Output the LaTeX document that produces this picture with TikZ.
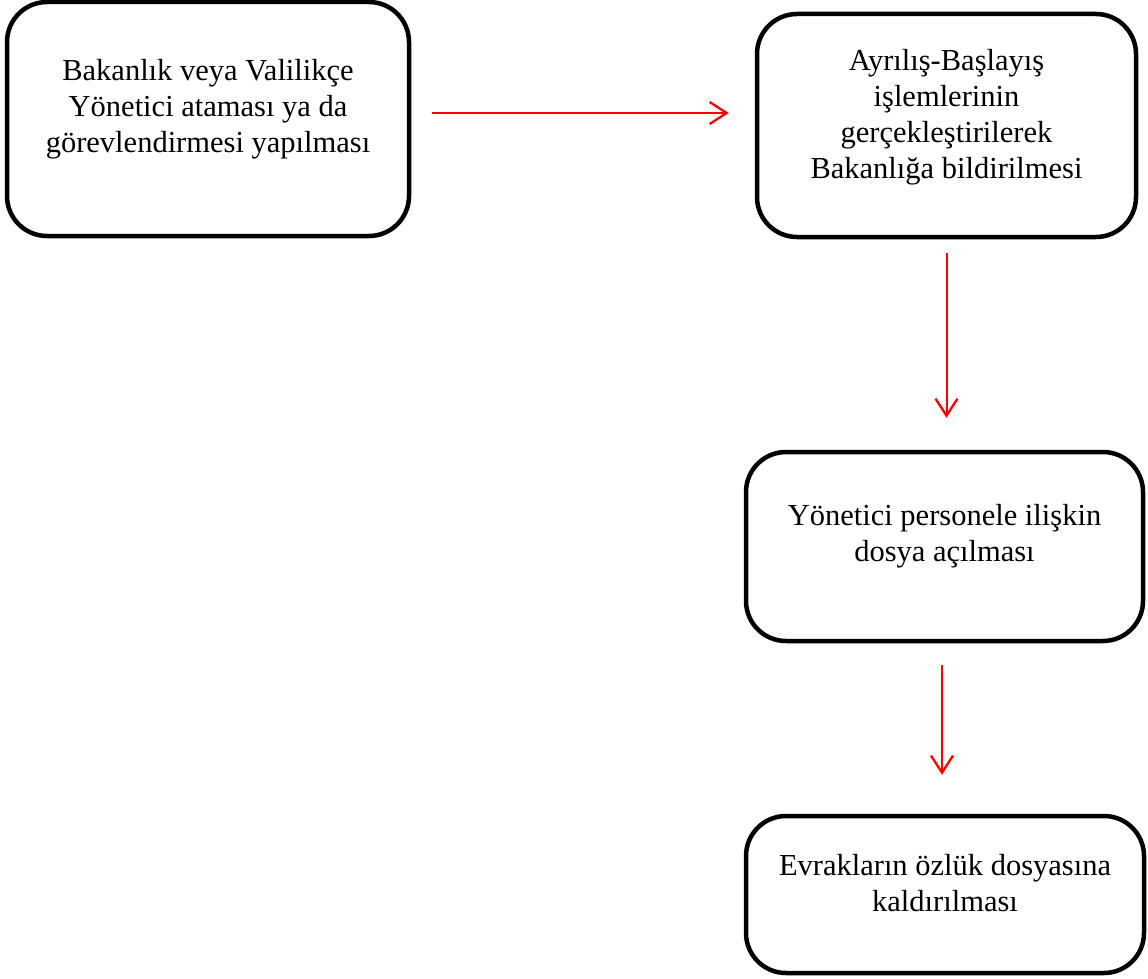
\documentclass[tikz,border=0pt]{standalone}
\usepackage{fontspec}
\setmainfont{Liberation Serif}
\usetikzlibrary{arrows.meta}

\begin{document}
\begin{tikzpicture}[x=1pt, y=-1pt,
    box/.style={draw, line width=4.5pt, rounded corners=40pt, inner sep=0pt},
    boxtext/.style={align=center, font=\fontsize{30.5pt}{36pt}\selectfont},
    flow/.style={draw=red, line width=2pt, -{Straight Barb[length=17pt, width=22pt, line width=2.3pt]}}]
    \useasboundingbox (0,0) rectangle (1148,979);

    % Draw boxes
    \node[box, minimum width=402pt, minimum height=234pt] (b1) at (208,119) {};
    \node[box, minimum width=379pt, minimum height=223pt] (b2) at (946.5,125.5) {};
    \node[box, minimum width=397pt, minimum height=189pt] (b3) at (944.5,546.5) {};
    \node[box, minimum width=398pt, minimum height=157pt] (b4) at (945,894.5) {};

    % Texts
    \node[boxtext] (t1) at (208,109) {Bakanlık veya Valilikçe\\Yönetici ataması ya da\\görevlendirmesi yapılması};
    \node[boxtext] (t2) at (946.5,117) {Ayrılış-Başlayış\\işlemlerinin\\gerçekleştirilerek\\Bakanlığa bildirilmesi};
    \node[boxtext] (t3) at (944.5,536) {Yönetici personele ilişkin\\dosya açılması};
    \node[boxtext] (t4) at (945,883) {Evrakların özlük dosyasına\\kaldırılması};

    % Draw connections
    \coordinate (a1s) at ([yshift=6pt]b1.east);
    \coordinate (a3s) at ([xshift=-2.5pt]b3.south);
    \draw[flow, shorten <=21pt, shorten >=26pt] (a1s) -- (a1s -| b2.west);
    \draw[flow, shorten <=14pt, shorten >=32pt] (b2.south) -- (b2.south |- b3.north);
    \draw[flow, shorten <=22pt, shorten >=39pt] (a3s) -- (a3s |- b4.north);
\end{tikzpicture}
\end{document}
